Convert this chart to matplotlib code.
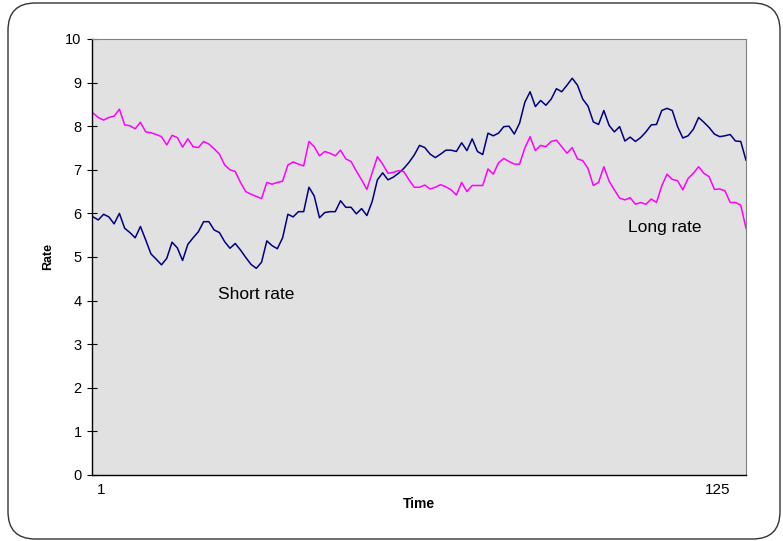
import matplotlib
matplotlib.use('Agg')
import numpy as np
import matplotlib.pyplot as plt
from matplotlib.patches import FancyBboxPatch
from matplotlib.transforms import ScaledTranslation

plt.rcParams['font.family'] = ['Liberation Sans', 'DejaVu Sans']

# short and long interest rates over 125 periods
short_rate = [
    5.92, 5.85, 5.98, 5.92, 5.76, 6.00, 5.66, 5.56, 5.44, 5.70,
    5.39, 5.07, 4.95, 4.82, 4.97, 5.34, 5.21, 4.92, 5.29, 5.44,
    5.58, 5.81, 5.81, 5.62, 5.56, 5.35, 5.20, 5.31, 5.16, 4.99,
    4.83, 4.74, 4.88, 5.37, 5.26, 5.19, 5.44, 5.98, 5.92, 6.04,
    6.04, 6.60, 6.40, 5.90, 6.02, 6.04, 6.04, 6.29, 6.14, 6.14,
    5.99, 6.11, 5.95, 6.27, 6.77, 6.93, 6.77, 6.83, 6.92, 7.03,
    7.17, 7.34, 7.56, 7.51, 7.36, 7.28, 7.36, 7.45, 7.45, 7.42,
    7.62, 7.44, 7.71, 7.42, 7.35, 7.84, 7.78, 7.84, 7.99, 8.00,
    7.82, 8.07, 8.55, 8.79, 8.45, 8.59, 8.48, 8.62, 8.86, 8.79,
    8.94, 9.10, 8.94, 8.62, 8.46, 8.10, 8.04, 8.36, 8.02, 7.87,
    7.99, 7.66, 7.75, 7.65, 7.74, 7.87, 8.03, 8.04, 8.36, 8.41,
    8.36, 7.99, 7.73, 7.78, 7.93, 8.20, 8.09, 7.97, 7.82, 7.76,
    7.78, 7.81, 7.66, 7.65, 7.22,
]
long_rate = [
    8.30, 8.20, 8.14, 8.20, 8.23, 8.39, 8.03, 8.01, 7.94, 8.09,
    7.87, 7.85, 7.81, 7.76, 7.57, 7.79, 7.74, 7.52, 7.71, 7.53,
    7.51, 7.65, 7.59, 7.48, 7.36, 7.11, 7.00, 6.96, 6.71, 6.50,
    6.44, 6.39, 6.34, 6.71, 6.67, 6.71, 6.74, 7.11, 7.18, 7.13,
    7.09, 7.65, 7.53, 7.32, 7.42, 7.38, 7.32, 7.45, 7.25, 7.19,
    6.97, 6.77, 6.55, 6.93, 7.30, 7.13, 6.92, 6.94, 6.98, 6.96,
    6.77, 6.60, 6.60, 6.65, 6.56, 6.60, 6.66, 6.61, 6.54, 6.42,
    6.71, 6.50, 6.64, 6.64, 6.64, 7.02, 6.90, 7.16, 7.26, 7.19,
    7.13, 7.13, 7.50, 7.76, 7.44, 7.56, 7.53, 7.65, 7.68, 7.53,
    7.38, 7.51, 7.25, 7.21, 7.03, 6.64, 6.71, 7.07, 6.74, 6.54,
    6.35, 6.31, 6.36, 6.21, 6.25, 6.21, 6.33, 6.25, 6.63, 6.90,
    6.78, 6.75, 6.54, 6.80, 6.92, 7.07, 6.92, 6.84, 6.55, 6.56,
    6.52, 6.25, 6.25, 6.19, 5.66,
]
time = np.arange(1, len(short_rate) + 1)

fig = plt.figure(figsize=(7.83, 5.41), dpi=100)
ax = fig.add_axes([92 / 783, 66 / 541, 654 / 783, 436 / 541])
ax.set_facecolor('#e1e1e1')

ax.plot(time, short_rate, color='#000080', lw=1.1)
ax.plot(time, long_rate, color='#ff00ff', lw=1.1)

ax.set_xlim(0.8, 125)
ax.set_ylim(0, 10)
ax.set_yticks(range(0, 11))
ax.tick_params(axis='y', direction='inout', length=7, width=0.8, labelsize=10.5, pad=4)

# category labels only at first and last period
ax.set_xticks([1, 125])
ax.set_xticklabels(['1', '125'], fontsize=11)
ax.tick_params(axis='x', length=0, pad=6)
lbls = ax.get_xticklabels()
lbls[0].set_transform(lbls[0].get_transform() + ScaledTranslation(8 / 100, 0, fig.dpi_scale_trans))
lbls[1].set_transform(lbls[1].get_transform() + ScaledTranslation(-28 / 100, 0, fig.dpi_scale_trans))

for side in ['top', 'right']:
    ax.spines[side].set_color('#808080')
for side in ['left', 'bottom']:
    ax.spines[side].set_color('black')
    ax.spines[side].set_linewidth(1.0)

ax.set_xlabel('Time', fontsize=10, fontweight='bold', labelpad=0)
ax.set_ylabel('Rate', fontsize=9, fontweight='bold', labelpad=8)

ax.text(32, 4.13, 'Short rate', fontsize=12.5, ha='center', va='center')
ax.text(109.6, 5.67, 'Long rate', fontsize=12.5, ha='center', va='center')

# rounded frame around the whole chart
frame = FancyBboxPatch((8 / 783, 2 / 541), 772 / 783, 536 / 541,
                       boxstyle='round,pad=0,rounding_size=0.035',
                       transform=fig.transFigure, fill=False,
                       edgecolor='#333333', lw=1.0, mutation_aspect=783 / 541)
fig.patches.append(frame)

fig.savefig('out.png', dpi=100)
